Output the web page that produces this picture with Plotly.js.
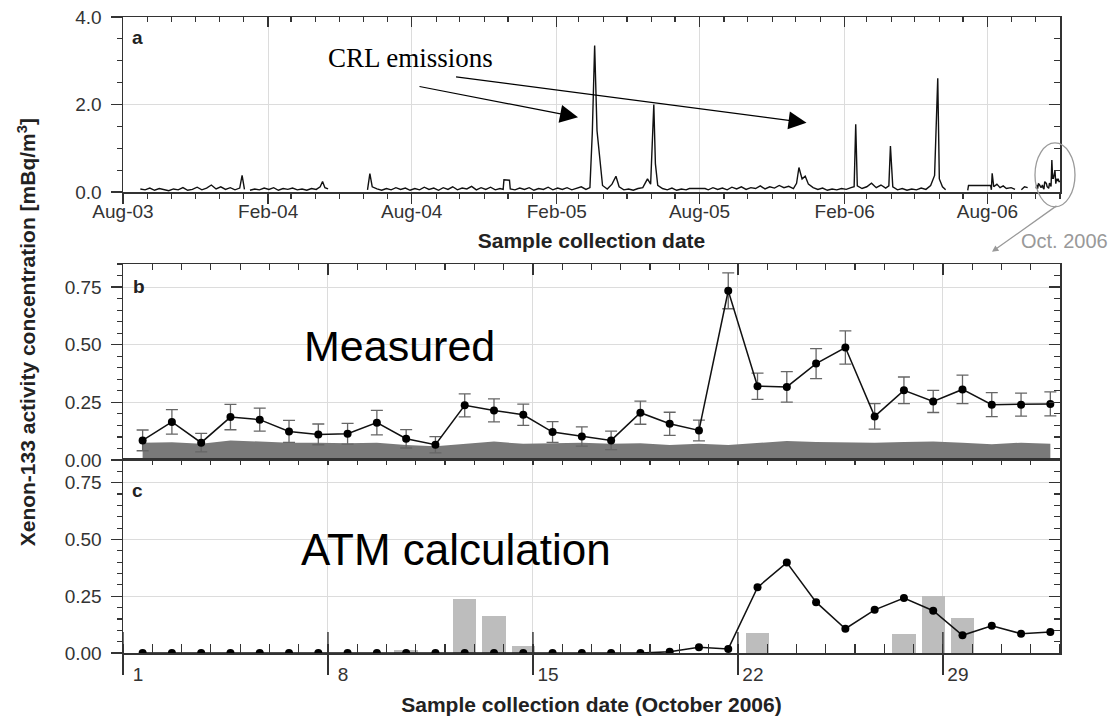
<!DOCTYPE html>
<html>
<head>
<meta charset="utf-8">
<script src="https://cdn.plot.ly/plotly-3.0.1.min.js"></script>
<style>html,body{margin:0;padding:0;background:#fff;}#chart{width:1110px;height:717px;}</style>
</head>
<body>
<div id="chart"></div>
<script>
// ---------- Panel a: long-term record (Aug 2003 - Sep 2006) ----------
const aDates = [
 '2003-08-23','2003-08-29','2003-09-04','2003-09-10','2003-09-16','2003-09-22','2003-09-28','2003-10-04','2003-10-10','2003-10-16',
 '2003-10-22','2003-10-28','2003-11-03','2003-11-09','2003-11-15','2003-11-21','2003-11-27','2003-12-03','2003-12-09','2003-12-15',
 '2003-12-21','2003-12-27','2003-12-30','2004-01-02','2004-01-05','2004-01-09','2004-01-15','2004-01-21','2004-01-27','2004-02-02',
 '2004-02-08','2004-02-14','2004-02-20','2004-02-26','2004-03-03','2004-03-09','2004-03-15','2004-03-21','2004-03-27','2004-04-02',
 '2004-04-07','2004-04-10','2004-04-13','2004-04-17','2004-04-22',
 '2004-06-06','2004-06-09','2004-06-12','2004-06-18','2004-06-24','2004-06-30','2004-07-06','2004-07-12','2004-07-18','2004-07-24',
 '2004-07-30','2004-08-05','2004-08-11','2004-08-17','2004-08-23','2004-08-29','2004-09-04','2004-09-10','2004-09-16','2004-09-22',
 '2004-09-28','2004-10-04','2004-10-10','2004-10-16','2004-10-22','2004-10-28','2004-11-03','2004-11-09','2004-11-15','2004-11-21',
 '2004-11-25','2004-11-26','2004-12-03','2004-12-04','2004-12-10','2004-12-16','2004-12-22','2004-12-28','2005-01-03','2005-01-09',
 '2005-01-15','2005-01-21','2005-01-27','2005-02-02','2005-02-08','2005-02-14','2005-02-20','2005-02-26','2005-03-04','2005-03-10',
 '2005-03-15','2005-03-18','2005-03-21','2005-03-24','2005-03-27','2005-03-31','2005-04-06','2005-04-12','2005-04-17','2005-04-21',
 '2005-04-27','2005-05-03','2005-05-09','2005-05-15','2005-05-21','2005-05-27','2005-05-31','2005-06-04','2005-06-06','2005-06-09',
 '2005-06-15','2005-06-21','2005-06-27','2005-07-03','2005-07-09','2005-07-15','2005-07-19','2005-08-08','2005-08-12','2005-08-18',
 '2005-08-24','2005-08-30','2005-09-05','2005-09-11','2005-09-17','2005-09-23','2005-09-29','2005-10-05','2005-10-11','2005-10-17',
 '2005-10-23','2005-10-29','2005-11-04','2005-11-10','2005-11-16','2005-11-22','2005-11-28','2005-12-02','2005-12-05','2005-12-09',
 '2005-12-13','2005-12-17','2005-12-23','2005-12-29','2006-01-04','2006-01-10','2006-01-16','2006-01-22','2006-01-28','2006-02-03',
 '2006-02-09','2006-02-13','2006-02-15','2006-02-17','2006-02-23','2006-03-01','2006-03-07','2006-03-13','2006-03-19','2006-03-25',
 '2006-03-29','2006-03-31','2006-04-03','2006-04-09','2006-04-15','2006-04-21','2006-04-27','2006-05-03','2006-05-09','2006-05-15',
 '2006-05-21','2006-05-26','2006-05-30','2006-06-01','2006-06-05','2006-06-09','2006-06-14',
 '2006-07-07','2006-07-08','2006-08-05','2006-08-06','2006-08-07','2006-08-09','2006-08-13','2006-08-17','2006-08-21','2006-08-25',
 '2006-08-31','2006-09-05','2006-09-08','2006-09-13','2006-09-17','2006-09-21','2006-09-25'
];
const aValues = [
 0.07,0.05,0.09,0.04,0.08,0.06,0.03,0.07,0.05,0.10,
 0.04,0.06,0.11,0.05,0.09,0.16,0.07,0.12,0.06,0.10,
 0.05,0.09,0.38,0.06,null,0.04,0.07,0.05,0.09,0.06,
 0.10,0.04,0.08,0.06,0.09,0.05,0.07,0.04,0.08,0.06,
 0.12,0.24,0.10,0.07,null,
 0.05,0.42,0.12,0.07,0.04,0.08,0.05,0.10,0.06,0.09,
 0.04,0.08,0.05,0.11,0.06,0.09,0.04,0.10,0.06,0.12,
 0.05,0.09,0.07,0.13,0.05,0.10,0.06,0.11,0.05,0.08,
 0.06,0.28,0.27,0.07,0.05,0.09,0.06,0.10,0.04,0.08,
 0.06,0.11,0.05,0.09,0.06,0.10,0.05,0.08,0.12,0.06,
 0.10,1.35,3.35,1.40,0.90,0.15,0.07,0.18,0.36,0.12,
 0.05,0.07,0.04,0.08,0.10,0.30,0.18,2.00,0.65,0.15,
 0.08,0.05,0.09,0.04,0.07,0.05,0.08,0.08,0.05,0.10,
 0.06,0.09,0.05,0.11,0.07,0.12,0.06,0.10,0.08,0.14,
 0.07,0.12,0.09,0.15,0.10,0.13,0.08,0.20,0.56,0.30,
 0.36,0.18,0.10,0.06,0.09,0.04,0.07,0.05,0.08,0.06,
 0.10,0.12,1.55,0.14,0.08,0.12,0.20,0.10,0.16,0.09,
 0.14,1.05,0.12,0.05,0.08,0.04,0.07,0.05,0.09,0.06,
 0.15,0.38,2.60,0.30,0.12,0.05,null,
 0.04,0.15,0.15,0.05,0.43,0.12,0.18,0.10,0.14,0.08,
 0.10,0.06,null,0.05,0.12,0.10,null
];

// ---------- Panels b and c: October 2006 ----------
const days = [1,2,3,4,5,6,7,8,9,10,11,12,13,14,15,16,17,18,19,20,21,22,23,24,25,26,27,28,29,30,31,32];
const sampleOffset = 0.67; // collection time within the day
const measured = [0.085,0.165,0.075,0.186,0.175,0.124,0.111,0.114,0.162,0.092,0.066,0.237,0.215,0.196,0.121,0.102,
                  0.085,0.205,0.157,0.128,0.734,0.320,0.317,0.418,0.488,0.189,0.302,0.254,0.306,0.240,0.240,0.243];
const measuredErr = [0.045,0.053,0.040,0.055,0.050,0.048,0.045,0.045,0.053,0.040,0.035,0.050,0.050,0.046,0.045,0.042,
                     0.040,0.050,0.050,0.045,0.078,0.057,0.066,0.065,0.072,0.055,0.058,0.048,0.062,0.052,0.050,0.052];
const mdc = [0.075,0.077,0.070,0.085,0.080,0.075,0.075,0.072,0.075,0.065,0.060,0.070,0.080,0.070,0.072,0.075,
             0.070,0.072,0.065,0.070,0.065,0.072,0.082,0.078,0.075,0.075,0.078,0.080,0.075,0.068,0.075,0.070];
const atmCalc = [0,0,0,0,0,0,0,0,0,0,0,0,0,0,0,0,0,0,0.005,0.025,0.018,0.289,0.398,0.224,0.107,0.190,0.242,0.186,0.078,0.120,0.085,0.093];
const atmBars = [0,0,0,0,0,0,0,0,0,0.012,0,0.238,0.163,0.033,0,0,0,0,0,0,0,0.088,0,0,0,0,0.082,0.250,0.152,0,0,0];
const weekTicks = [1,8,15,22,29];
const weekLabels = ['1','8','15','22','29'];

const xs = days.map(d => d + sampleOffset);
function octDate(d){
  const t = new Date(Date.UTC(2006, 9, d, 16));
  return t.toISOString().slice(0,16).replace('T',' ');
}
const aAllDates = aDates.concat(days.map(octDate));
const aAllValues = aValues.concat(measured);

const FONT = 'Liberation Sans, Arial, sans-serif';
const AX = '#333';
const GRID = '#dcdcdc';

const traces = [
  {x:aAllDates, y:aAllValues, type:'scatter', mode:'lines', xaxis:'x', yaxis:'y',
   line:{color:'#111', width:1.4}, connectgaps:false, showlegend:false, hoverinfo:'skip'},
  // carrier for the inner (top/right) tick axes of panel a
  {x:aAllDates, y:aAllValues, type:'scatter', mode:'none', xaxis:'x4', yaxis:'y4', showlegend:false, hoverinfo:'skip'},
  {x:xs, y:mdc, type:'scatter', mode:'lines', xaxis:'x2', yaxis:'y2', fill:'tozeroy',
   fillcolor:'#7a7a7a', line:{color:'#7a7a7a', width:0}, showlegend:false},
  {x:xs, y:measured, type:'scatter', mode:'lines+markers', xaxis:'x2', yaxis:'y5',
   line:{color:'#111', width:1.5}, marker:{color:'#000', size:8},
   error_y:{type:'data', array:measuredErr, visible:true, color:'#666', thickness:1.3, width:6},
   showlegend:false},
  {x:xs, y:atmBars, type:'bar', xaxis:'x3', yaxis:'y3', width:0.8,
   marker:{color:'#bdbdbd', line:{width:0}}, showlegend:false},
  {x:xs, y:atmCalc, type:'scatter', mode:'lines+markers', xaxis:'x5', yaxis:'y6',
   line:{color:'#111', width:1.5}, marker:{color:'#000', size:8}, showlegend:false}
];

const dA = [0.7248, 1], dB = [0.3035, 0.6116], dC = [0, 0.3035];
const aRange = ['2003-08-01','2006-11-01'];
const oRange = [1, 33];

function yLeft(domain, range, dtick, fmt, minorDt, anchor){
  return {domain, range, anchor, dtick, tick0:0, tickformat:fmt, ticks:'outside', ticklen:11, tickwidth:1.3,
    tickcolor:AX, showline:true, linecolor:AX, linewidth:1.5, mirror:true, zeroline:false,
    showgrid:true, gridcolor:GRID, gridwidth:1, tickfont:{size:19, color:AX}, ticklabelstandoff:5,
    minor:{dtick:minorDt, ticks:'outside', ticklen:5, tickcolor:AX, tickwidth:1.2, showgrid:false},
    automargin:false, fixedrange:true};
}
function yRight(over, range, dtick, minorDt, anchor){
  return {overlaying:over, side:'right', anchor, range, dtick, tick0:0, ticks:'inside', ticklen:11, tickwidth:1.3,
    tickcolor:AX, showticklabels:false, showline:false, showgrid:false, zeroline:false,
    minor:{dtick:minorDt, ticks:'inside', ticklen:6, tickcolor:AX, tickwidth:1.2, showgrid:false},
    automargin:false, fixedrange:true};
}

const shapes = weekTicks.map(d => ({type:'line', xref:'x3', yref:'y3', x0:d, x1:d,
  ysizemode:'pixel', yanchor:0, y0:0, y1:21, line:{color:AX, width:1.4}}));
shapes.push({type:'circle', xref:'paper', yref:'paper', x0:0.9733, x1:1.016, y0:0.7015, y1:0.802,
  line:{color:'#9a9a9a', width:1.3}});

function note(x, y, text, font, extra){
  return Object.assign({xref:'paper', yref:'paper', x, y, text, showarrow:false,
    xanchor:'center', yanchor:'middle', font}, extra || {});
}
function arrow(x, y, ax, ay, color, size, width){
  return {xref:'paper', yref:'paper', x, y, ax, ay, text:'', showarrow:true,
    arrowhead:2, arrowsize:size, arrowwidth:width, arrowcolor:color};
}

const annotations = [
  note(0.0155, 0.9678, '<b>a</b>', {size:19, color:'#222'}),
  note(0.0176, 0.5758, '<b>b</b>', {size:19, color:'#222'}),
  note(0.0155, 0.2553, '<b>c</b>', {size:19, color:'#222'}),
  note(0.3065, 0.9356, 'CRL emissions', {family:'Liberation Serif, Times New Roman, serif', size:27, color:'#000'}),
  arrow(0.4856, 0.8424, -160, -31, '#000', 3, 1.2),
  arrow(0.7295, 0.8339, -352, -46, '#000', 3, 1.2),
  note(0.2952, 0.4831, 'Measured', {size:43, color:'#000'}),
  note(0.3551, 0.1626, 'ATM calculation', {size:44, color:'#000'}),
  note(1.0053, 0.648, 'Oct. 2006', {size:20, color:'#999'}),
  arrow(0.9274, 0.6308, 66, -47, '#999', 1, 1.3),
  note(-0.103, 0.505, '<b>Xenon-133 activity concentration [mBq/m<sup>3</sup>]</b>', {size:21, color:'#222'}, {textangle:-90})
];

const layout = {
  width:1110, height:717, paper_bgcolor:'#fff', plot_bgcolor:'#fff',
  margin:{l:123, r:50, t:17, b:64}, showlegend:false,
  font:{family:FONT, color:AX},
  xaxis:{domain:[0,1], anchor:'y', type:'date', range:aRange, tick0:'2003-08-01', dtick:'M6', tickformat:'%b-%y',
    ticks:'outside', ticklen:10, tickwidth:1.3, tickcolor:AX, showline:true, linecolor:AX, linewidth:1.5, mirror:true,
    showgrid:true, gridcolor:GRID, tickfont:{size:19, color:AX}, ticklabelstandoff:-8,
    minor:{dtick:'M1', ticks:'outside', ticklen:5, tickcolor:AX, tickwidth:1.2, showgrid:false},
    title:{text:'<b>Sample collection date</b>', font:{size:21, color:'#222'}, standoff:12},
    automargin:false, fixedrange:true},
  xaxis4:{overlaying:'x', anchor:'y', side:'top', type:'date', range:aRange, tick0:'2003-08-01', dtick:'M6',
    ticks:'inside', ticklen:10, tickwidth:1.3, tickcolor:AX, showticklabels:false, showline:false, showgrid:false,
    minor:{dtick:'M1', ticks:'inside', ticklen:5, tickcolor:AX, tickwidth:1.2, showgrid:false}, automargin:false, fixedrange:true},
  yaxis:yLeft(dA, [0,4], 2, '.1f', 0.5, 'x'),
  yaxis4:yRight('y', [0,4], 2, 0.5, 'x4'),

  xaxis2:{domain:[0,1], anchor:'y2', side:'top', range:oRange, tick0:1, dtick:7,
    ticks:'inside', ticklen:11, tickwidth:1.3, tickcolor:AX, showticklabels:false,
    showline:true, linecolor:AX, linewidth:1.5, mirror:true, showgrid:true, gridcolor:GRID, zeroline:false,
    minor:{dtick:1, tick0:1, ticks:'inside', ticklen:6, tickcolor:AX, tickwidth:1.2, showgrid:false},
    automargin:false, fixedrange:true},
  yaxis2:yLeft(dB, [0,0.85], 0.25, '.2f', 0.05, 'x2'),
  yaxis5:yRight('y2', [0,0.85], 0.25, 0.05, 'x2'),

  xaxis3:{domain:[0,1], anchor:'y3', range:oRange, tickmode:'array', tickvals:weekTicks, ticktext:weekLabels,
    ticks:'outside', ticklen:20, tickwidth:1.4, tickcolor:AX, ticklabelshift:15, ticklabelstandoff:-16,
    showline:true, linecolor:AX, linewidth:1.5, mirror:true, showgrid:true, gridcolor:GRID, zeroline:false,
    tickfont:{size:19, color:AX},
    minor:{tickmode:'linear', dtick:1, tick0:1, ticks:'inside', ticklen:9, tickcolor:AX, tickwidth:1.2, showgrid:false},
    title:{text:'<b>Sample collection date (October 2006)</b>', font:{size:21, color:'#222'}, standoff:13},
    automargin:false, fixedrange:true},
  xaxis5:{overlaying:'x3', anchor:'y3', side:'top', range:oRange, tick0:1, dtick:1,
    ticks:'inside', ticklen:5, tickwidth:1.2, tickcolor:AX, showticklabels:false, showline:false, showgrid:false,
    zeroline:false, automargin:false, fixedrange:true},
  yaxis3:yLeft(dC, [0,0.85], 0.25, '.2f', 0.05, 'x3'),
  yaxis6:yRight('y3', [0,0.85], 0.25, 0.05, 'x5'),

  bargap:0, shapes, annotations
};

Plotly.newPlot('chart', traces, layout, {displayModeBar:false, staticPlot:true});
</script>
</body>
</html>
